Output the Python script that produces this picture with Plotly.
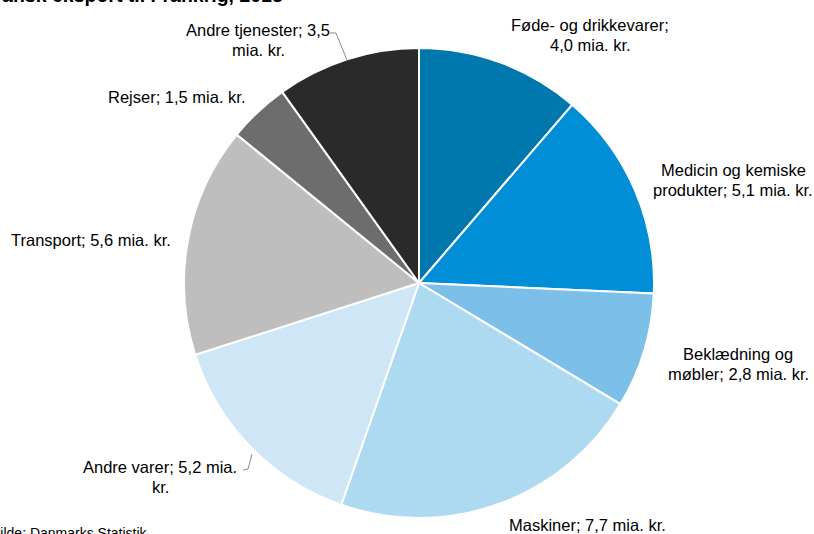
import plotly.graph_objects as go

categories = ["Føde- og drikkevarer", "Medicin og kemiske produkter", "Beklædning og møbler",
              "Maskiner", "Andre varer", "Transport", "Rejser", "Andre tjenester"]
values = [4.0, 5.1, 2.8, 7.7, 5.2, 5.6, 1.5, 3.5]
label_lines = [["Føde- og drikkevarer;", "4,0 mia. kr."],
               ["Medicin og kemiske", "produkter; 5,1 mia. kr."],
               ["Beklædning og", "møbler; 2,8 mia. kr."],
               ["Maskiner; 7,7 mia. kr."],
               ["Andre varer; 5,2 mia.", "kr."],
               ["Transport; 5,6 mia. kr."],
               ["Rejser; 1,5 mia. kr."],
               ["Andre tjenester; 3,5", "mia. kr."]]
colors = ["#0078AE", "#008ED6", "#7CBFE8", "#ADD9F1", "#CFE6F6", "#BEBEBE", "#6D6D6D", "#2A2A2A"]

W, H = 814, 534
# first-line centre positions in pixels
label_pos = [(590, 25), (733, 170), (738, 354), (587, 525), (160, 467), (91, 240), (177, 97), (258, 30)]
LINE_GAP = 20

def px(x):
    return x / W

def py(y):
    return 1 - y / H

fig = go.Figure(go.Pie(
    labels=categories, values=values, sort=False, direction="clockwise", rotation=0,
    marker=dict(colors=colors, line=dict(color="white", width=2)),
    textinfo="none", hoverinfo="label+value",
    domain=dict(x=[px(184), px(654)], y=[py(518), py(48)]),
    showlegend=False,
))

FONT = "Liberation Sans, Arial"
annotations = []
for lines, (x, y) in zip(label_lines, label_pos):
    for i, t in enumerate(lines):
        annotations.append(dict(text=t, x=px(x), y=py(y + i * LINE_GAP), xref="paper", yref="paper",
                                showarrow=False, xanchor="center", yanchor="middle",
                                font=dict(family=FONT, size=16.5, color="#000000")))
annotations.append(dict(text="<b>Dansk eksport til Frankrig, 2013</b>", x=px(-14), y=py(8),
                        xref="paper", yref="paper", showarrow=False, xanchor="left", yanchor="bottom",
                        font=dict(family=FONT, size=19.5, color="#000000")))
annotations.append(dict(text="Kilde: Danmarks Statistik", x=px(-11), y=py(523),
                        xref="paper", yref="paper", showarrow=False, xanchor="left", yanchor="top",
                        font=dict(family=FONT, size=14, color="#000000")))

shapes = []
leaders = [[(330, 33), (336, 33), (347, 60)],
           [(243, 470), (248, 469), (252, 454)]]
for pts in leaders:
    for (x0, y0), (x1, y1) in zip(pts[:-1], pts[1:]):
        shapes.append(dict(type="line", xref="paper", yref="paper", x0=px(x0), y0=py(y0),
                           x1=px(x1), y1=py(y1), line=dict(color="#8C8C8C", width=1)))

fig.update_layout(width=W, height=H, margin=dict(l=0, r=0, t=0, b=0),
                  paper_bgcolor="white", plot_bgcolor="white",
                  annotations=annotations, shapes=shapes)
fig.write_html("out.html", config={"displayModeBar": False},
               post_script="document.body.style.margin='0';")
